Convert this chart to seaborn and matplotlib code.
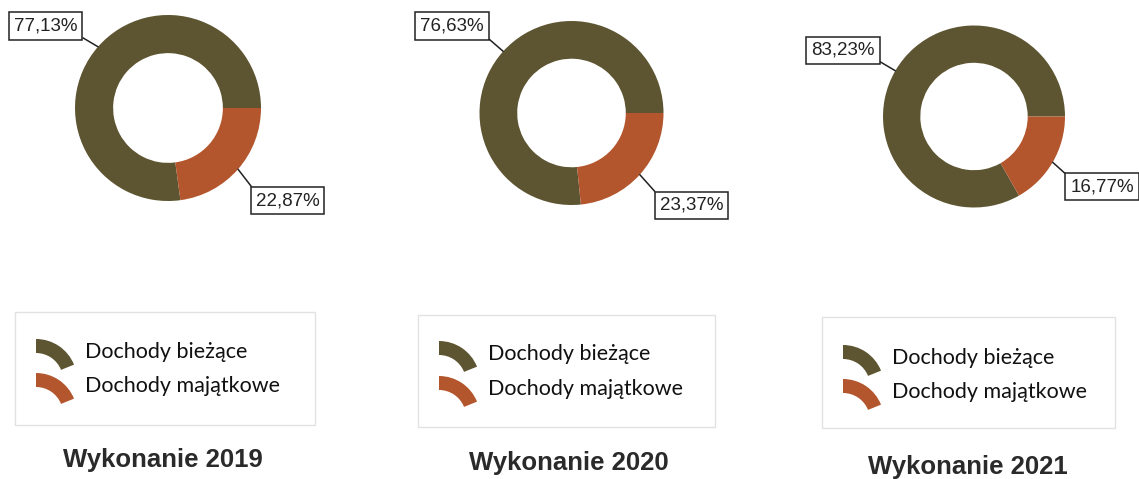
import numpy as np
import matplotlib
matplotlib.use("Agg")
import matplotlib.pyplot as plt
from matplotlib.patches import Wedge, Rectangle
import seaborn as sns

# Revenue structure (percent of total revenue) by year
years = ["2019", "2020", "2021"]
dochody_biezace = [77.13, 76.63, 83.23]
dochody_majatkowe = [22.87, 23.37, 16.77]
series_names = ["Dochody bieżące", "Dochody majątkowe"]
title_prefix = "Wykonanie"

sns.set_theme(style="white")
plt.rcParams["font.family"] = ["Liberation Sans", "DejaVu Sans"]
colors = sns.color_palette(["#5d5431", "#b3552d"])

W, H = 1139, 479
fig = plt.figure(figsize=(W / 100, H / 100), dpi=100)
fig.patch.set_facecolor("white")

# panel geometry in pixels: donut centre, radius, label offsets (in radii)
panels = [
    dict(cx=168, cy=108, r=93, top=(-1.317, 0.882), bot=(1.285, -0.995),
         box=(15, 312, 315, 425), tx=85, ty=(352, 386), title=(163, 460)),
    dict(cx=571.5, cy=113, r=92, top=(-1.30, 0.946), bot=(1.304, -1.005),
         box=(418, 315, 715, 427), tx=488, ty=(354, 389), title=(569, 463)),
    dict(cx=974, cy=116.5, r=91, top=(-1.44, 0.73), bot=(1.407, -0.77),
         box=(822, 317, 1115, 428), tx=892, ty=(358, 392), title=(968, 467)),
]


def fmt(v):
    return f"{v:.2f}".replace(".", ",") + "%"


# overlay axes in pixel units for legends and titles
ov = fig.add_axes([0, 0, 1, 1], zorder=0)
ov.set_xlim(0, W)
ov.set_ylim(0, H)
ov.axis("off")

for i, p in enumerate(panels):
    r = p["r"]
    ax = fig.add_axes([(p["cx"] - r) / W, 1 - (p["cy"] + r) / H, 2 * r / W, 2 * r / H], zorder=2)
    vals = [dochody_biezace[i], dochody_majatkowe[i]]
    wedges, _ = ax.pie(vals, colors=colors, startangle=0, counterclock=True,
                       radius=1.0, wedgeprops=dict(width=0.41, edgecolor="none"))
    ax.set_xlim(-1, 1)
    ax.set_ylim(-1, 1)
    ax.set_aspect("equal")
    ax.axis("off")

    for w, v, pos, rel in zip(wedges, vals, [p["top"], p["bot"]], [(1, 0), (0, 1)]):
        mid = np.deg2rad((w.theta1 + w.theta2) / 2)
        ax.annotate(fmt(v), xy=(np.cos(mid), np.sin(mid)), xytext=pos,
                    ha="center", va="center", fontsize=13.5, color="#222222",
                    bbox=dict(boxstyle="square,pad=0.27", fc="white", ec="#222222", lw=1.1),
                    arrowprops=dict(arrowstyle="-", color="#222222", lw=1.1,
                                    shrinkA=0, shrinkB=0, relpos=rel),
                    annotation_clip=False, zorder=5)

    # legend frame
    x0, y0, x1, y1 = p["box"]
    ov.add_patch(Rectangle((x0, H - y1), x1 - x0, y1 - y0, fill=False,
                           ec="#e2e2e2", lw=1.0))
    for name, col, ty in zip(series_names, colors, p["ty"]):
        yc = H - ty
        ov.add_patch(Wedge((p["tx"] - 49, yc - 28), 41, 22, 90, width=14,
                           fc=col, ec="none"))
        ov.text(p["tx"], yc, name, ha="left", va="center", fontsize=15.5,
                family=["Lato", "DejaVu Sans"], color="#111111")

    ov.text(p["title"][0], H - p["title"][1], f"{title_prefix} {years[i]}",
            ha="center", va="center", fontsize=18.5, fontweight="bold",
            color="#2a2a2a")

fig.savefig("out.png", dpi=100, facecolor="white")
